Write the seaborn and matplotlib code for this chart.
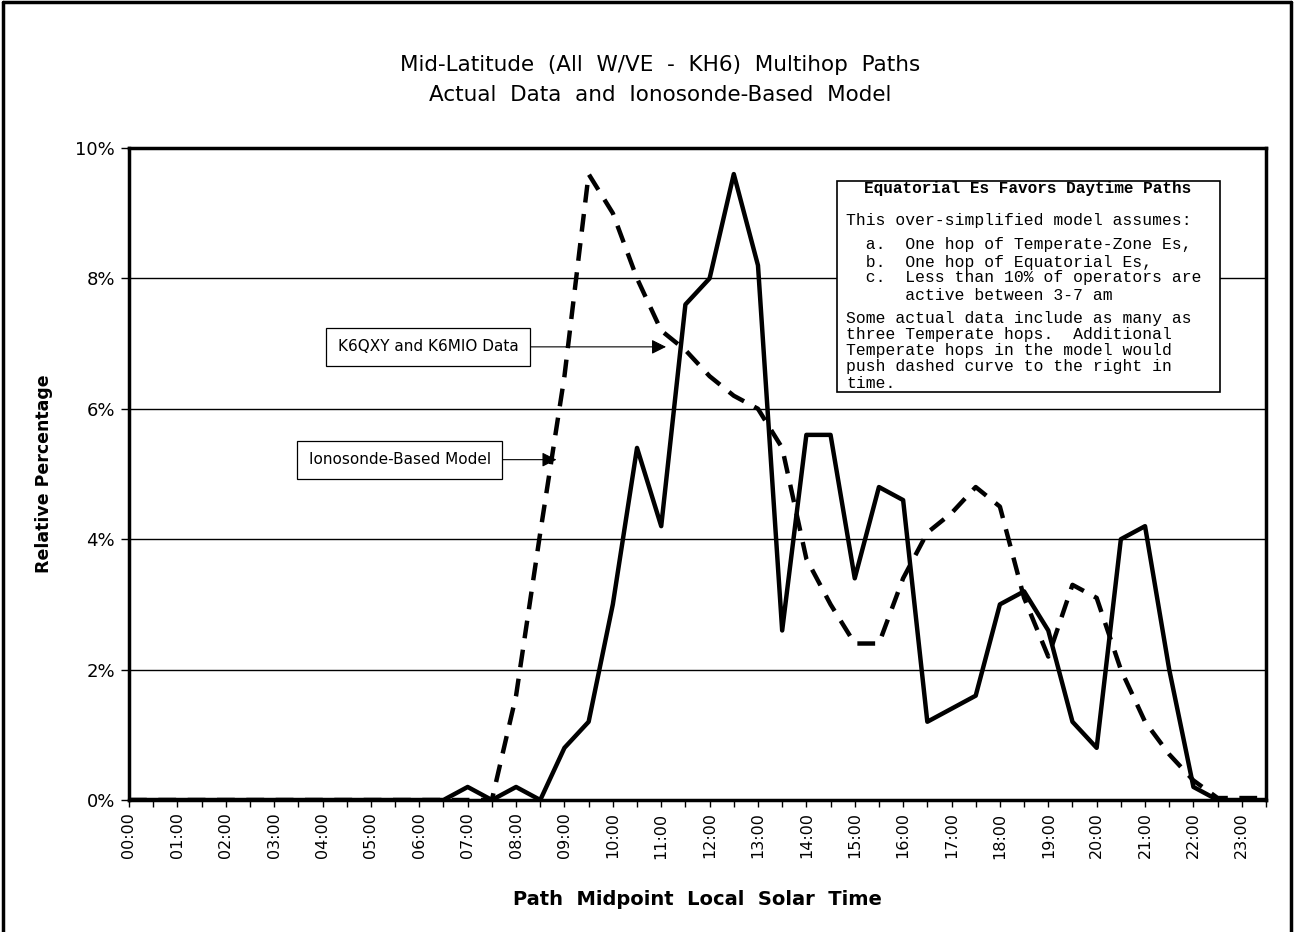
import numpy as np
import pandas as pd
import seaborn as sns
import matplotlib.pyplot as plt
from matplotlib.patches import Rectangle
from matplotlib.lines import Line2D

# half-hour bins of path midpoint local solar time
times = [f"{h:02d}:{m:02d}" for h in range(24) for m in (0, 30)]
hour_labels = times[::2]

# K6QXY and K6MIO data (percent)
actual = [0, 0, 0, 0, 0, 0, 0, 0, 0, 0, 0, 0, 0, 0,
          0.2, 0, 0.2, 0, 0.8, 1.2, 3.0, 5.4, 4.2, 7.6, 8.0, 9.6, 8.2, 2.6,
          5.6, 5.6, 3.4, 4.8, 4.6, 1.2, 1.4, 1.6, 3.0, 3.2, 2.6, 1.2, 0.8,
          4.0, 4.2, 2.0, 0.2, 0, 0, 0]
# ionosonde-based model (percent)
model = [0, 0, 0, 0, 0, 0, 0, 0, 0, 0, 0, 0, 0, 0,
         0, 0, 1.6, 4.1, 6.5, 9.6, 9.0, 8.0, 7.2, 6.9, 6.5, 6.2, 6.0, 5.4,
         3.7, 3.0, 2.4, 2.4, 3.4, 4.1, 4.4, 4.8, 4.5, 3.1, 2.2, 3.3, 3.1,
         2.0, 1.2, 0.7, 0.3, 0.03, 0.03, 0.03]

yticks = [0, 2, 4, 6, 8, 10]

title_lines = ["Mid-Latitude  (All  W/VE  -  KH6)  Multihop  Paths",
               "Actual  Data  and  Ionosonde-Based  Model"]

note_title = "Equatorial Es Favors Daytime Paths"
note_lines = ["This over-simplified model assumes:",
              "  a.  One hop of Temperate-Zone Es,",
              "  b.  One hop of Equatorial Es,",
              "  c.  Less than 10% of operators are",
              "      active between 3-7 am",
              "Some actual data include as many as",
              "three Temperate hops.  Additional",
              "Temperate hops in the model would",
              "push dashed curve to the right in",
              "time."]

df = pd.DataFrame({"pos": np.arange(len(times)), "time": times,
                   "actual": actual, "model": model})

sns.set_style("ticks")
plt.rcParams['font.family'] = ['DejaVu Sans']
plt.rcParams.update({"text.color": "black", "axes.labelcolor": "black",
                     "xtick.color": "black", "ytick.color": "black"})

W, H = 1294, 932
fx = lambda px: px / W
fy = lambda py: 1 - py / H

fig = plt.figure(figsize=(W / 100, H / 100), dpi=100)
ax = fig.add_axes([fx(129), fy(800), (1266 - 129) / W, (800 - 148) / H])

sns.lineplot(data=df, x="pos", y="actual", color="black", lw=3.2,
             errorbar=None, ax=ax, zorder=4)
sns.lineplot(data=df, x="pos", y="model", color="black", lw=3.2,
             linestyle=(0, (4, 2.6)), errorbar=None, ax=ax, zorder=4)

ax.set_xlim(0, len(times) - 1)
ax.set_ylim(0, 10)
ax.set_xticks(np.arange(0, len(times), 2))
ax.set_xticklabels(hour_labels, rotation=90, fontsize=11.5)
ax.set_xticks(np.arange(len(times)), minor=True)
ax.set_yticks(yticks)
ax.set_yticklabels([f"{v}%" for v in yticks], fontsize=13)
ax.yaxis.grid(True, color="black", lw=1)
ax.tick_params(axis="x", which="both", direction="out", length=5, width=1,
               color="black", pad=4)
ax.tick_params(axis="y", direction="out", length=6, width=1, color="black", pad=4)
for s in ax.spines.values():
    s.set_visible(True)
    s.set_linewidth(2.5)
    s.set_color("black")

ax.set_xlabel("Path  Midpoint  Local  Solar  Time", fontsize=14, fontweight="bold")
ax.xaxis.set_label_coords(0.5, -0.138)
ax.set_ylabel("Relative Percentage", fontsize=12.5, fontweight="bold")
ax.yaxis.set_label_coords(-0.067, 0.5)

# callouts
arrow = dict(arrowstyle="-|>", color="black", lw=0.8, mutation_scale=22,
             shrinkA=0, shrinkB=0)
box = dict(boxstyle="square,pad=0.75", fc="white", ec="black", lw=0.9)
ax.annotate("K6QXY and K6MIO Data", xy=(22.2, 6.95), xytext=(12.36, 6.95),
            ha="center", va="center", fontsize=11, bbox=box, arrowprops=arrow,
            zorder=6)
ax.annotate("Ionosonde-Based Model", xy=(17.67, 5.22), xytext=(11.2, 5.22),
            ha="center", va="center", fontsize=11, bbox=box, arrowprops=arrow,
            zorder=6)

# title
fig.text(fx(660), fy(65), title_lines[0], ha="center", va="center", fontsize=15.5)
fig.text(fx(660), fy(95), title_lines[1], ha="center", va="center", fontsize=15.5)

# note box
fig.add_artist(Rectangle((fx(837), fy(392)), (1220 - 837) / W, (392 - 181) / H,
                         transform=fig.transFigure, facecolor="white",
                         edgecolor="black", lw=1.2, zorder=5))
fig.text(fx(1028), fy(189), note_title, ha="center", va="center",
         family="Liberation Mono", fontweight="bold", fontsize=11.5, zorder=6)
note_y = [220, 245, 262, 278, 295, 319, 335, 351, 367, 384]
for line, yy in zip(note_lines, note_y):
    fig.text(fx(846), fy(yy), line, ha="left", va="center",
             family="Liberation Mono", fontsize=11.8, zorder=6)

# outer frame: left, top and right edges
for xs, ys in [([0.002, 0.002], [0.0, 0.998]),
               ([0.002, 0.998], [0.998, 0.998]),
               ([0.998, 0.998], [0.998, 0.0])]:
    fig.add_artist(Line2D(xs, ys, transform=fig.transFigure, color="black", lw=2.5))

fig.savefig("out.png", dpi=100, facecolor="white")
